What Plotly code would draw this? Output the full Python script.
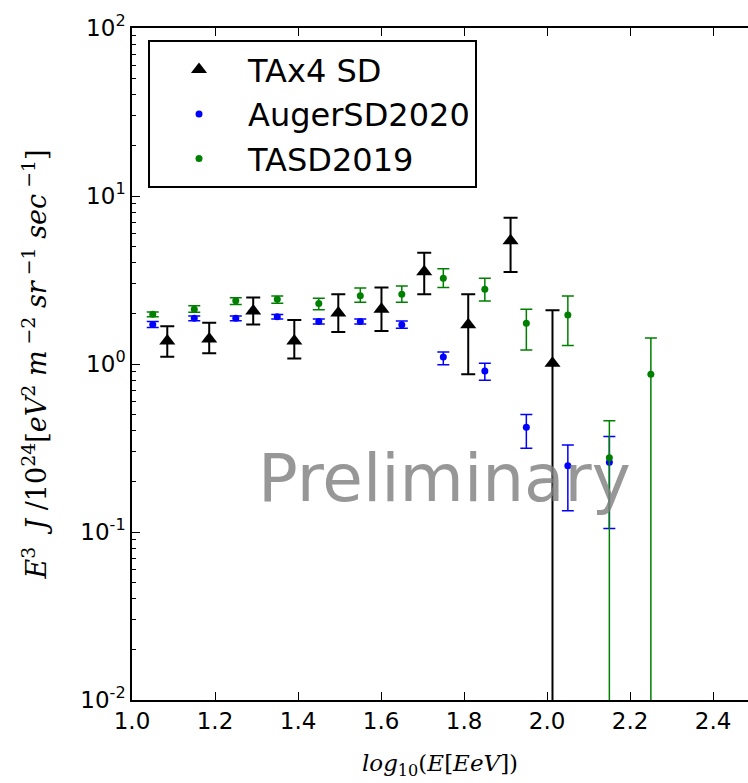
import plotly.graph_objects as go

# ---- data ----
tax4_x = [1.085, 1.186, 1.292, 1.391, 1.497, 1.601, 1.704, 1.810, 1.912, 2.013]
tax4_y = [1.37, 1.41, 2.07, 1.37, 2.01, 2.12, 3.54, 1.71, 5.42, 1.01]
tax4_hi = [1.68, 1.76, 2.49, 1.83, 2.60, 2.85, 4.60, 2.60, 7.43, 2.09]
tax4_lo = [1.105, 1.16, 1.72, 1.08, 1.55, 1.57, 2.60, 0.87, 3.53, 0.0]

auger_x = [1.05, 1.15, 1.25, 1.35, 1.45, 1.55, 1.65, 1.75, 1.85, 1.95, 2.05, 2.15]
auger_y = [1.72, 1.87, 1.87, 1.91, 1.79, 1.79, 1.71, 1.10, 0.91, 0.42, 0.248, 0.26]
auger_hi = [1.79, 1.93, 1.93, 1.97, 1.85, 1.85, 1.80, 1.18, 1.01, 0.50, 0.33, 0.37]
auger_lo = [1.65, 1.81, 1.81, 1.85, 1.73, 1.73, 1.63, 0.99, 0.80, 0.315, 0.134, 0.105]

tasd_x = [1.05, 1.15, 1.25, 1.35, 1.45, 1.55, 1.65, 1.75, 1.85, 1.95, 2.05, 2.15, 2.25]
tasd_y = [1.98, 2.12, 2.38, 2.43, 2.29, 2.55, 2.60, 3.24, 2.79, 1.75, 1.96, 0.277, 0.87]
tasd_hi = [2.04, 2.22, 2.48, 2.54, 2.46, 2.83, 2.91, 3.69, 3.24, 2.12, 2.54, 0.46, 1.43]
tasd_lo = [1.91, 2.03, 2.26, 2.30, 2.10, 2.33, 2.33, 2.85, 2.37, 1.21, 1.29, 0.0, 0.0]

y_tickvals = [0.01, 0.1, 1, 10, 100]
y_ticktext = ["10<sup>-2</sup>", "10<sup>-1</sup>", "10<sup>0</sup>", "10<sup>1</sup>", "10<sup>2</sup>"]
y_minor = [m * d for d in [0.01, 0.1, 1, 10] for m in range(2, 10)]

series = [
    ("TAx4 SD", tax4_x, tax4_y, tax4_hi, tax4_lo, "#000000", "triangle-up", 14, 2.0, 7),
    ("AugerSD2020", auger_x, auger_y, auger_hi, auger_lo, "#0000ff", "circle", 7, 1.5, 6),
    ("TASD2019", tasd_x, tasd_y, tasd_hi, tasd_lo, "#008000", "circle", 7, 1.5, 6),
]

fig = go.Figure()
for name, xs, ys, his, los, col, sym, msz, lw, cw in series:
    plus = [h - y for h, y in zip(his, ys)]
    minus = [y - max(l, y * 1e-5) for l, y in zip(los, ys)]
    fig.add_trace(go.Scatter(
        x=xs, y=ys, name=name, mode="markers",
        marker=dict(symbol=sym, size=msz, color=col, line=dict(width=0)),
        error_y=dict(type="data", symmetric=False, array=plus, arrayminus=minus,
                     color=col, thickness=lw, width=cw),
    ))

fig.add_annotation(x=1.754, y=-0.68, xref="x", yref="y", text="Preliminary",
                   showarrow=False,
                   font=dict(family="DejaVu Sans", size=66, color="rgba(128,128,128,0.82)"))

axis_common = dict(showgrid=False, zeroline=False, showline=True, linecolor="black",
                   linewidth=1.5, ticks="inside", ticklen=8, tickwidth=1.2, tickcolor="black",
                   tickfont=dict(family="DejaVu Sans", size=23, color="black"))

fig.update_xaxes(range=[1.0, 2.484], dtick=0.2, tick0=1.0, tickformat=".1f",
                 mirror="allticks",
                 title=dict(text="<i>log</i><sub>10</sub>(<i>E</i>[<i>EeV</i>])",
                            font=dict(family="DejaVu Serif", size=23, color="black"),
                            standoff=22),
                 **axis_common)
fig.update_yaxes(type="log", range=[-2, 2], tickvals=y_tickvals, ticktext=y_ticktext,
                 minor=dict(tickvals=y_minor, ticks="inside", ticklen=4,
                            tickcolor="black", showgrid=False),
                 title=dict(text="<i>E</i><sup>3</sup>  <i>J</i> /10<sup>24</sup>[<i>eV</i><sup>2</sup> <i>m</i><sup> −2</sup> <i>sr</i><sup> −1</sup> <i>sec</i><sup> −1</sup>]",
                            font=dict(family="DejaVu Serif", size=27, color="black"),
                            standoff=26),
                 **axis_common)

fig.update_layout(
    width=748, height=783,
    margin=dict(l=132, r=0, t=28, b=83),
    paper_bgcolor="white", plot_bgcolor="white",
    showlegend=True,
    legend=dict(x=0.026, y=0.982, xanchor="left", yanchor="top",
                bordercolor="black", borderwidth=2, bgcolor="white",
                font=dict(family="DejaVu Sans", size=32, color="black"),
                itemwidth=88),
)

fig.write_html("out.html")
